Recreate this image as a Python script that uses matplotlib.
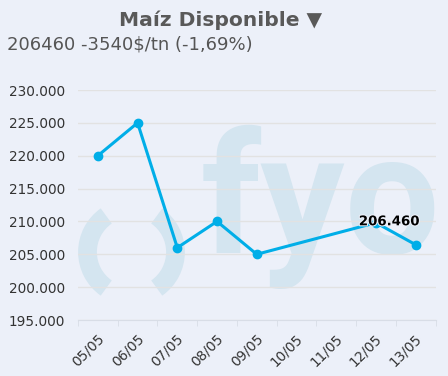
import matplotlib
matplotlib.use("Agg")
import matplotlib.pyplot as plt
import matplotlib.transforms as mtrans
import matplotlib.patheffects as pe
from matplotlib.patches import Arc
import numpy as np

# data
dates = ["05/05", "06/05", "07/05", "08/05", "09/05", "10/05", "11/05", "12/05", "13/05"]
prices = [220000, 225000, 206000, 210000, 205000, None, None, 209800, 206460]
y_ticks = [195000, 200000, 205000, 210000, 215000, 220000, 225000, 230000]
title = "Maíz Disponible ▼"
subtitle = "206460 -3540$/tn (-1,69%)"
last_label = "206.460"

BG = "#ecf0f9"
LINE = "#00aee8"
WM = "#d4e5f0"

fig = plt.figure(figsize=(4.48, 3.76), dpi=100, facecolor=BG)
ax = fig.add_axes([78 / 448, 1 - 320 / 376, 357.5 / 448, 230 / 376])
ax.patch.set_alpha(0)

# watermark logo "( )fyo", behind the axes
for t1, t2 in [(125, 235), (-55, 55)]:
  fig.patches.append(Arc((131.5, 376 - 252), 88, 88, theta1=t1, theta2=t2,
                         transform=mtrans.IdentityTransform(), color=WM,
                         linewidth=13.5, zorder=-1))
fig.text(201 / 448, 1 - 253 / 376, "fyo", fontsize=121, color=WM,
         family="Roboto", fontweight="bold", ha="left", va="baseline",
         zorder=-1)

xi = [i for i, v in enumerate(prices) if v is not None]
yv = [v for v in prices if v is not None]
ax.plot(xi, yv, color=LINE, lw=2.2, marker="o", ms=6, zorder=3)

ax.set_xlim(-0.5, len(dates) - 0.5)
ax.set_ylim(195000, 230000)
ax.set_yticks(y_ticks)
ax.set_yticklabels([f"{v:,}".replace(",", ".") for v in y_ticks])
ax.yaxis.grid(True, color="#e2e2e2", lw=1)
ax.set_axisbelow(True)
ax.tick_params(axis="y", length=0, pad=9.5, labelsize=9.8, labelcolor="#333333")

ax.set_xticks(range(len(dates)))
ax.set_xticklabels(dates, rotation=45, ha="right", va="center",
                   rotation_mode="anchor", fontsize=9.8, color="#333333")
ax.tick_params(axis="x", length=0, pad=12)
ax.set_xticks(np.arange(-0.5, len(dates)), minor=True)
ax.tick_params(axis="x", which="minor", length=4, color="#d8dde6")
shift = mtrans.ScaledTranslation(4 / 100, 0, fig.dpi_scale_trans)
for lab in ax.get_xticklabels():
  lab.set_transform(lab.get_transform() + shift)

for s in ["top", "right", "left"]:
  ax.spines[s].set_visible(False)
ax.spines["bottom"].set_color("#d8dde6")

ax.annotate(last_label, (xi[-1], yv[-1]), xytext=(-19, 16.5),
            textcoords="offset points", ha="center", va="center",
            fontsize=9.6, fontweight="bold", color="black", zorder=6,
            path_effects=[pe.withStroke(linewidth=1.5, foreground=BG)])

fig.text(221 / 448, 1 - 20 / 376, title, fontsize=14.6, fontweight="bold",
         color="#595959", ha="center", va="center")
fig.text(7 / 448, 1 - 45 / 376, subtitle, fontsize=13, color="#555555",
         ha="left", va="center")

fig.savefig("out.png", dpi=100, facecolor=BG)
